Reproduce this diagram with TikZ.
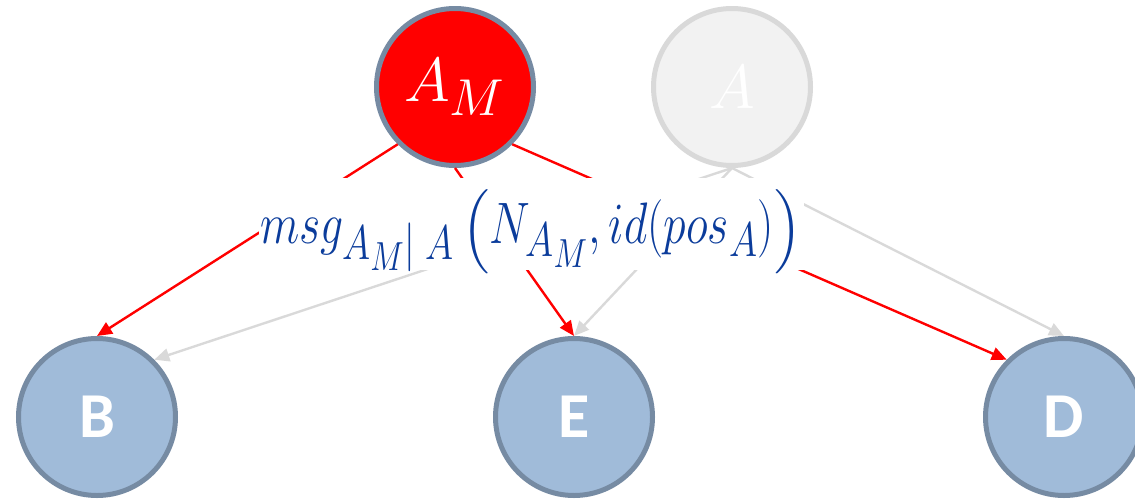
\documentclass[tikz,border=0pt]{standalone}
\usepackage{graphicx}
\usepackage{amsmath}
\usepackage{fontspec}
\usetikzlibrary{arrows.meta}
\newfontfamily\carlito{Carlito}
\definecolor{nodeblue}{HTML}{A0BBD9}
\definecolor{nodeedge}{HTML}{768BA3}
\definecolor{ghostfill}{HTML}{F2F2F2}
\definecolor{ghostedge}{HTML}{D9D9D9}
\definecolor{labelblue}{HTML}{0B3C9B}
\newcommand{\bigmath}[1]{\scalebox{2.5}{\Huge$#1$}}
\newcommand{\labelmath}[1]{\scalebox{1.84}[2.35]{\Huge$#1$}}
\newcommand{\lpar}{\mathopen{\scalebox{1}[0.8]{\Huge$\Bigl($}}}
\newcommand{\rpar}{\mathclose{\scalebox{1}[0.8]{\Huge$\Bigr)$}}}
\tikzset{
  ball/.style={circle, minimum size=157pt, inner sep=0pt, line width=5pt},
  bluenode/.style={ball, fill=nodeblue, draw=nodeedge, text=white, font=\carlito\bfseries\fontsize{64}{70}\selectfont},
  rednode/.style={ball, fill=red, draw=nodeedge, text=white},
  ghostnode/.style={ball, fill=ghostfill, draw=ghostedge, text=white},
  redarrow/.style={draw=red, line width=2.4pt, -{Triangle[length=15pt,width=13pt]}},
  grayarrow/.style={draw=ghostedge, line width=2.4pt, -{Triangle[length=15pt,width=13pt]}},
}
\begin{document}
\begin{tikzpicture}[x=1pt,y=-1pt]
\useasboundingbox (0,0) rectangle (1135,498);
\node[rednode] (AM) at (455,87) {\bigmath{A_M}};
\node[ghostnode] (A) at (732,87) {\bigmath{A}};
\node[bluenode] (B) at (97,417) {B};
\node[bluenode] (E) at (574,417) {E};
\node[bluenode] (D) at (1064,417) {D};
\draw[grayarrow] (A.south) -- (B.north east);
\draw[grayarrow] (A.south) -- (E.north);
\draw[grayarrow] (A.south) -- (D.north);
\draw[redarrow] (AM.south west) -- (B.north);
\draw[redarrow] (AM.south) -- (E.north);
\draw[redarrow] (AM.south east) -- (D.north west);
\node[fill=white, minimum width=545pt, inner sep=0pt, text height=65pt, text depth=27pt, anchor=base, text=labelblue] (lbl) at (531,243)
  {\labelmath{msg_{A_M|\;A}\,\lpar N_{A_M}, id(pos_A)\rpar}};
\end{tikzpicture}
\end{document}
